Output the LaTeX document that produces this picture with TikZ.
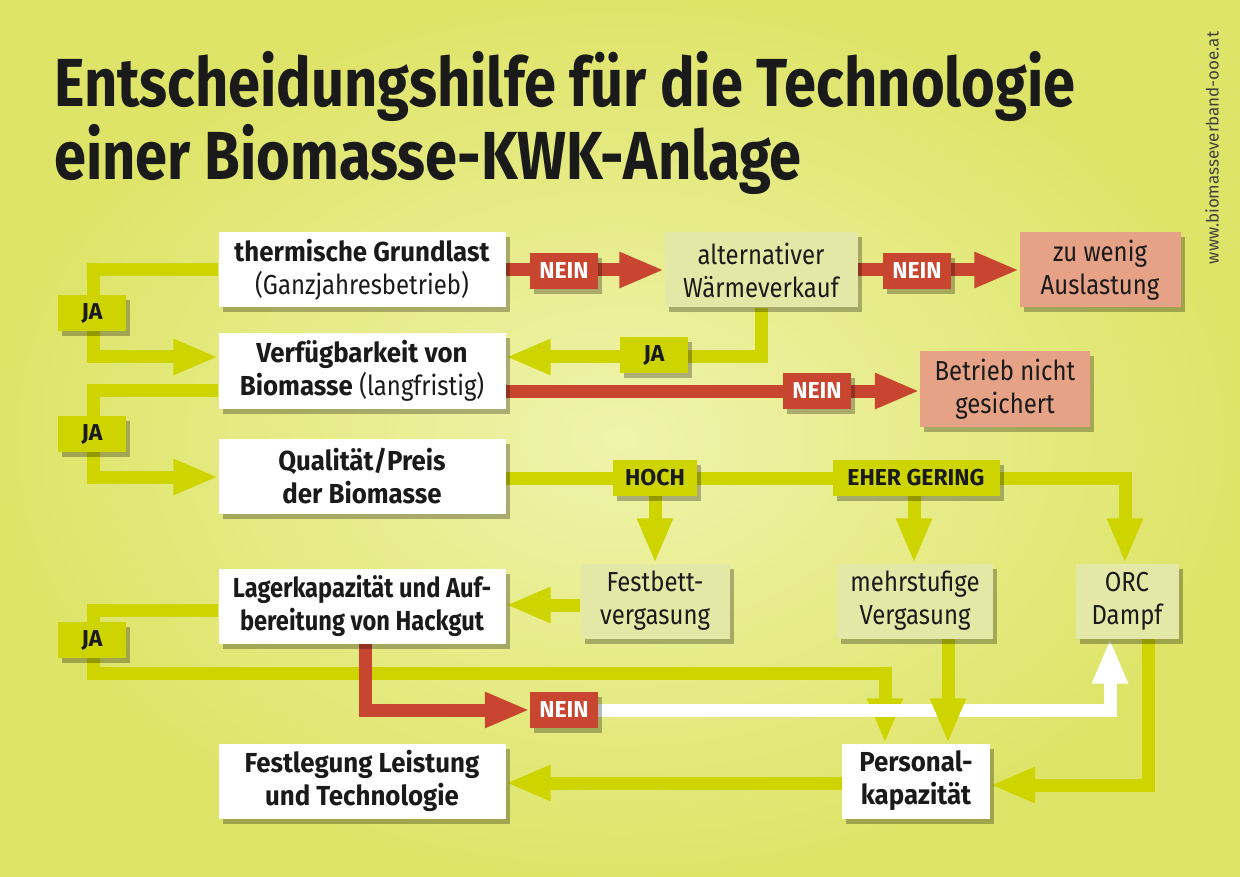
\documentclass[tikz,border=0pt]{standalone}
\usepackage{fontspec}
\setmainfont{Fira Sans}[FakeStretch=0.87]
\newfontfamily\bxfont{Fira Sans}[FakeStretch=0.94]
\newfontfamily\bxnarrow{Fira Sans}[FakeStretch=0.86]
\newfontfamily\titlefont{Fira Sans}[FakeStretch=0.85]
\newfontfamily\urlfont{Fira Sans}
\newcommand\bt[1]{{\bxfont\bfseries #1}}
\newcommand\btn[1]{{\bxnarrow\bfseries #1}}
\usetikzlibrary{arrows.meta,shadows}
\definecolor{limec}{RGB}{205,212,0}
\definecolor{redc}{RGB}{200,69,47}
\definecolor{salmonc}{RGB}{230,162,135}
\definecolor{paleg}{RGB}{227,232,166}
\definecolor{bgin}{RGB}{240,243,172}
\definecolor{bgout}{RGB}{222,228,104}
\definecolor{inkc}{RGB}{26,26,26}
\pgfdeclarelayer{bg}
\pgfsetlayers{bg,main}
\tikzset{
  shd/.style={drop shadow={shadow xshift=4pt,shadow yshift=-5pt,opacity=0.28,fill=black}},
  wbox/.style={shd,fill=white,minimum width=287pt,minimum height=75pt,inner sep=0pt,align=center,text=inkc,font=\fontsize{27.5}{33}\selectfont},
  pbox/.style={wbox,fill=paleg},
  sbox/.style={wbox,fill=salmonc},
  jalab/.style={shd,fill=limec,minimum width=68pt,minimum height=36pt,inner sep=0pt,text=inkc,font=\urlfont\bfseries\fontsize{23}{26}\selectfont},
  neinlab/.style={jalab,fill=redc,text=white},
  flow/.style={line width=13pt,line join=miter,line cap=butt,draw=limec,-{Triangle[length=45pt,width=33pt]}},
  rflow/.style={flow,draw=redc},
  wflow/.style={flow,draw=white},
}
\begin{document}
\begin{tikzpicture}[x=1pt,y=-1pt]
\useasboundingbox (0,0) rectangle (1240,877);
\begin{pgfonlayer}{bg}
\shade[inner color=bgin,outer color=bgout] (0,0) rectangle (1240,877);
\end{pgfonlayer}
% title
\node[anchor=base west,inner sep=0pt,text=inkc,font=\titlefont\bfseries\fontsize{68}{75}\selectfont] (t1) at (54,107) {Entscheidungshilfe für die Technologie};
\node[anchor=base west,inner sep=0pt,text=inkc,font=\titlefont\bfseries\fontsize{68}{75}\selectfont] (t2) at (54,180) {einer Biomasse-KWK-Anlage};
\node[rotate=90,inner sep=0pt,text=black!75,font=\urlfont\fontsize{17}{20}\selectfont] (url) at (1212,148) {www.biomasseverband-ooe.at};
% boxes
\node[wbox] (b1) at (362,270) {\bt{thermische Grundlast}\\(Ganzjahresbetrieb)};
\node[wbox] (b2) at (362,371) {\bt{Verfügbarkeit von}\\\bt{Biomasse} (langfristig)};
\node[wbox] (b3) at (362,476) {\bt{Qualität/Preis}\\\bt{der Biomasse}};
\node[wbox] (b4) at (362,606) {\btn{Lagerkapazität und Auf-}\\\btn{bereitung von Hackgut}};
\node[wbox] (b5) at (362,781) {\bt{Festlegung Leistung}\\\bt{und Technologie}};
\node[pbox,minimum width=193pt] (alt) at (761,270) {alternativer\\Wärmeverkauf};
\node[sbox,minimum width=161pt] (zu) at (1100,270) {zu wenig\\Auslastung};
\node[sbox,minimum width=170pt] (bet) at (1005,389) {Betrieb nicht\\gesichert};
\node[pbox,minimum width=149pt] (fest) at (655,601) {Festbett-\\vergasung};
\node[pbox,minimum width=156pt] (mehr) at (915,601) {mehrstufige\\Vergasung};
\node[pbox,minimum width=103pt] (orc) at (1127,601) {ORC\\Dampf};
\node[wbox,minimum width=148pt] (pers) at (916,781) {\bt{Personal-}\\\bt{kapazität}};
% labels
\node[neinlab] (n1) at (564,271) {NEIN};
\node[neinlab] (n2) at (917,271) {NEIN};
\node[jalab] (ja4) at (654,355) {JA};
\node[neinlab] (n3) at (817,391) {NEIN};
\node[jalab] (ja1) at (92,313) {JA};
\node[jalab] (ja2) at (92,434) {JA};
\node[jalab] (ja3) at (92,640) {JA};
\node[jalab,minimum width=84pt] (hoch) at (655,478) {HOCH};
\node[jalab,minimum width=167pt] (eher) at (916,478) {EHER GERING};
\node[neinlab] (n4) at (564,710) {NEIN};
% connectors
\begin{pgfonlayer}{bg}
\coordinate (e1) at (93,357);
\coordinate (e2) at (93,477);
\draw[flow] (b1.west) -| (e1) -- (e1 -| b2.west);
\draw[flow] (b2.west |- 0,390) -| (e2) -- (e2 -| b3.west);
\draw[flow] (b4.west |- 0,610) -| (93,673) -| (pers.north -| 885,0);
\draw[rflow] (b1.east) -- (alt.west);
\draw[rflow] (alt.east) -- (zu.west);
\draw[flow] (alt.south) |- (b2.east |- 0,357);
\draw[rflow] (b2.east |- 0,391) -- (bet.west |- 0,391);
\draw[flow] (b3.east |- 0,478) -| (orc.north -| 1125,0);
\draw[flow] (hoch.south) -- (fest.north);
\draw[flow] (eher.south -| 914,0) -- (mehr.north -| 914,0);
\draw[flow] (fest.west |- 0,605) -- (b4.east |- 0,605);
\draw[rflow] (b4.south -| 365,0) |- (n4.west);
\draw[wflow] (n4.east) -| (orc.south -| 1110,0);
\draw[flow] (mehr.south -| 948,0) -- (pers.north -| 948,0);
\draw[flow] (orc.south -| 1148,0) |- (pers.east |- 0,785);
\draw[flow] (pers.west |- 0,783) -- (b5.east |- 0,783);
\end{pgfonlayer}
\end{tikzpicture}
\end{document}
